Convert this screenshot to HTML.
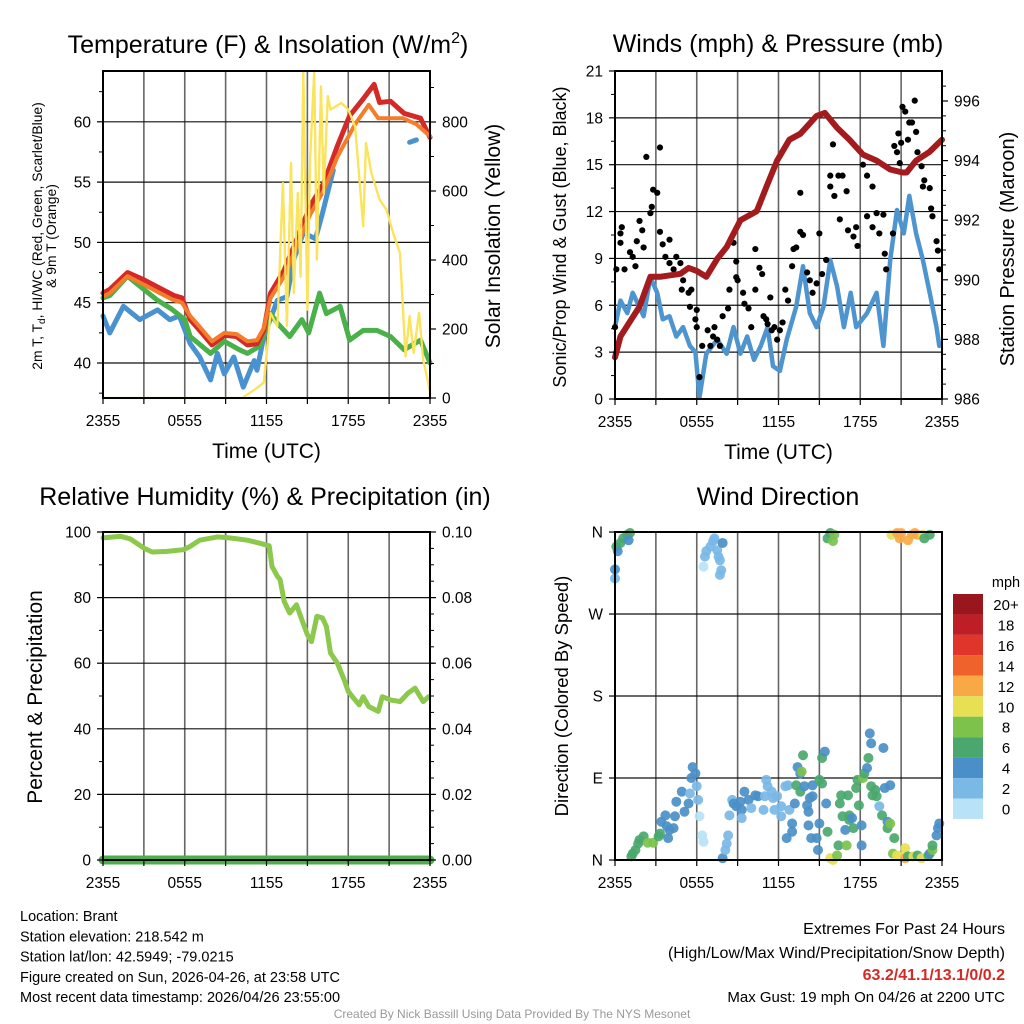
<!DOCTYPE html>
<html><head><meta charset="utf-8"><style>
html,body{margin:0;padding:0;background:#fff;}
svg{display:block;font-family:"Liberation Sans",sans-serif;}
</style></head><body>
<svg id="fig" width="1024" height="1024" viewBox="0 0 1024 1024" xmlns="http://www.w3.org/2000/svg"></svg>
<script>
// ---- Data (hours since 2355 UTC) ----
const xTickLabels = ["2355","0555","1155","1755","2355"];
const tempHours = [0,0.5,1.8,3,4,5.2,5.8,6.4,7.1,8,8.9,9.8,10.6,11.3,11.8,12.3,13.3,14.2,15.2,16.2,17.2,18.1,19.1,19.9,20.3,21.1,22.1,23.3,24];
const tempF = [45.8,46.1,47.5,46.9,46.3,45.6,45.4,43.6,42.7,41.5,42.3,42.2,41.5,41.6,42.7,45.8,47.7,50.2,53.0,54.9,58.0,60.5,61.9,63.1,61.6,61.7,60.7,60.3,58.7];
const t9Hours = [0,0.5,1.8,3,4,5.2,5.8,6.4,7.1,8,8.9,9.8,10.6,11.3,11.8,12.3,13.3,14.2,15.2,16.2,17.2,18.5,19.5,20.2,21,22,23,24];
const t9F = [45.5,45.8,47.2,46.5,45.9,45.2,45.0,43.9,43.0,41.8,42.5,42.4,41.8,41.9,42.9,45.4,47.2,49.6,52.3,54.3,57.1,59.8,61.4,60.3,60.3,60.3,59.8,58.8];
const hiHours = [0,0.5,1.8,3,4,5,6,6.4,7.9,8.9,10,10.6,11.5,12.3,12.8,13.7,14.6,15.1,15.9,16.4,17.4,18.1,19.1,20.1,21.1,22.1,23.3,24];
const hiF = [45.4,45.6,47.2,46.1,45.2,44.5,43.6,42.2,40.8,41.8,41.1,40.8,41.4,44.1,43.3,42.2,43.6,42.5,45.8,44.1,44.7,41.9,42.7,42.7,42.2,41.1,41.9,40.0];
const tdHours = [0,0.5,1.5,2.7,4,4.9,5.6,6.4,7.1,7.9,8.4,8.9,9.6,10.3,11.1,11.3,11.8,12.8,13.5,14,14.7,15.6,16.1,16.9];
const tdF = [43.9,42.5,44.7,43.6,44.4,43.6,43.9,41.6,40.5,38.6,40.8,39.1,40.5,38.0,40.2,39.4,42.2,45.2,45.5,48.6,50.8,50.3,52.4,56.0];
const td2Hours = [22.5,23.0];
const td2F = [58.3,58.5];
const solHours = [0,10.2,11.3,11.8,12.3,12.8,13.2,13.5,13.8,14.0,14.3,14.5,14.7,15.0,15.2,15.5,15.7,16.0,16.2,16.5,16.7,17.5,18.0,18.5,18.8,19.1,19.3,19.7,20.3,20.8,21.3,21.8,22.2,22.5,22.8,23.2,23.5,24];
const solW = [0,0,29,45,246,208,623,208,681,304,594,352,947,256,691,947,401,903,594,875,836,855,836,787,642,498,739,652,575,546,478,420,121,237,131,247,111,19];

const windHours = [0,0.4,0.9,1.3,2.1,2.6,3.1,3.5,4.0,4.5,5.0,5.5,5.9,6.2,6.7,7.5,8.2,8.7,9.2,9.7,10.2,10.7,11.2,11.6,12.1,12.6,13.3,13.8,14.3,14.8,15.3,15.8,16.3,16.8,17.3,17.7,18.5,19.2,19.7,20.2,20.7,21.2,21.6,22.1,22.6,23.1,23.6,23.8];
const windMph = [4.6,6.3,5.5,6.8,5.3,7.8,6.8,5.1,5.3,4.0,4.6,3.4,3.0,0.1,2.9,3.8,2.9,4.6,2.9,4.0,2.5,3.4,4.6,2.1,1.8,3.8,5.9,8.5,5.5,4.6,5.9,8.9,7.2,4.6,6.8,4.6,5.5,6.8,3.4,8.9,12.1,10.6,13.0,10.6,8.9,6.8,4.6,3.4];
const presHours = [0,0.4,1.8,2.6,3.3,4.8,5.4,6.0,6.7,7.5,8.2,9.2,10.4,11.1,11.9,12.8,13.6,14.8,15.4,16.3,17.2,18.2,19.2,20.2,21.1,21.4,22.1,23.1,24];
const presMb = [987.4,988.1,989.1,990.1,990.1,990.2,990.4,990.3,990.1,990.7,991.1,992.0,992.3,993.1,994.0,994.7,994.9,995.5,995.6,995.1,994.7,994.2,994.0,993.7,993.6,993.6,994.0,994.3,994.7];
const gustHours = [0,0.1,0.4,0.5,0.4,0.7,1.1,1.3,1.5,1.6,1.8,2.0,2.1,2.3,2.6,2.7,2.8,3.1,3.3,3.3,3.5,3.7,4.0,4.0,4.3,4.5,4.8,4.9,5.0,5.4,5.5,5.6,5.9,6.0,6.0,6.4,6.2,6.8,7.0,7.2,7.3,7.5,7.7,7.9,8.3,8.4,8.7,8.9,8.9,9.0,9.4,9.5,9.8,10.0,10.3,10.3,10.6,10.8,10.9,11.1,11.4,11.2,11.5,11.7,11.9,12.1,12.3,12.5,12.7,13.0,13.1,13.3,13.6,13.6,13.8,14.1,14.3,14.5,14.8,15.0,15.2,15.5,15.8,15.8,16.0,16.1,16.4,16.5,16.7,17.0,17.1,17.5,17.7,17.8,18.2,18.5,18.5,18.9,18.9,19.2,19.4,19.7,19.8,19.9,20.4,20.5,20.7,20.8,20.9,21.0,21.1,21.3,21.5,21.6,21.8,22.0,22.1,22.2,22.5,22.6,22.7,23.1,23.2,23.3,23.6,23.7,23.8];
const gustMph = [4.6,8.3,10.6,11.0,10.0,8.3,9.4,9.1,8.5,10.1,11.4,10.8,9.7,15.5,11.9,12.3,13.4,13.2,16.1,10.7,9.9,9.1,10.2,8.7,8.3,9.1,8.7,7.0,7.6,6.8,5.9,7.0,5.1,5.7,4.6,3.4,1.4,4.4,3.4,4.0,4.6,3.8,3.4,5.3,5.8,7.0,10.0,8.8,7.8,7.6,6.8,6.1,5.8,4.6,9.6,7.0,8.4,8.0,5.3,5.1,6.5,4.8,4.4,4.6,3.8,4.4,4.9,7.0,6.3,8.5,9.6,9.7,10.7,13.2,10.5,8.1,7.6,6.8,7.4,10.6,8.0,8.9,13.6,14.3,16.3,13.0,14.3,11.5,14.3,13.3,10.8,10.4,11.0,9.8,15.0,14.3,11.7,13.6,11.0,11.9,10.6,11.8,9.3,8.3,10.6,16.2,15.8,17.0,15.1,16.4,18.7,18.4,16.6,17.7,17.7,19.1,17.1,15.8,14.9,13.6,14.0,13.5,12.2,11.7,10.1,9.5,8.3];

const rhHours = [0,1.3,2,3,3.6,4.7,5.9,6.4,7.1,8.4,9.3,10.6,11.5,12.2,12.4,12.8,13.0,13.3,13.7,14.2,14.6,15.0,15.3,15.7,16.1,16.4,16.7,17.2,17.7,18.0,18.4,18.8,19.1,19.5,20.2,20.5,21.1,21.8,22.4,22.9,23.5,23.9];
const rhPct = [98.2,98.7,97.9,95.1,93.9,94.1,94.6,95.6,97.5,98.5,98.2,97.5,96.6,95.8,89.5,86.5,85.5,78.8,75.3,77.8,73.2,68.7,66.6,74.3,73.8,71.2,63.1,60.0,54.9,51.4,49.3,47.3,49.8,46.8,45.3,49.8,48.8,48.3,50.9,52.4,48.3,49.8];
const precipHours = [0,24];
const precipIn = [0,0];

const dirHours = [0.0,0.0,0.1,0.2,0.4,0.6,0.9,1.1,1.0,1.2,1.3,1.5,1.7,1.8,2.1,2.4,2.8,3.2,3.3,3.4,3.7,3.8,4.0,3.9,4.3,4.4,4.5,4.9,5.1,5.4,5.5,5.6,5.7,5.9,6.0,6.1,6.2,6.4,6.5,6.5,6.6,6.7,7.0,7.2,7.3,7.5,7.6,7.7,7.8,7.7,7.9,7.9,8.1,8.2,8.3,8.4,8.6,8.7,8.9,9.2,9.3,9.3,9.5,9.8,10.0,10.3,10.5,10.9,11.0,11.1,11.2,11.5,11.6,11.7,11.9,12.2,12.2,12.5,12.6,12.7,12.8,13.0,13.0,13.2,13.3,13.4,13.6,13.6,13.7,13.8,13.9,14.1,14.2,14.2,14.3,14.4,14.5,14.5,14.8,14.9,15.0,15.0,15.2,15.2,15.4,15.5,15.6,15.8,16.0,16.3,16.4,16.5,16.6,16.7,16.9,17.0,17.1,17.2,17.2,17.4,17.5,17.7,17.8,17.9,18.1,18.1,18.2,18.3,18.5,18.6,18.7,18.8,18.8,18.9,19.1,19.2,19.4,19.6,19.7,19.8,20.0,20.0,20.2,20.2,20.5,20.4,20.7,20.9,21.3,21.3,21.5,21.9,22.2,22.5,23.0,23.1,23.3,23.3,23.6,23.7,23.8,15.6,15.8,16.0,16.1,20.3,20.7,20.9,21.0,21.5,21.8,22.0,22.2,22.6,22.7,23.1];
const dirDeg = [309,319,344,339,348,353,357,359,351,4,7,11,18,22,26,19,19,26,29,42,49,37,33,24,35,48,64,75,53,62,73,90,102,95,81,66,48,27,20,322,333,339,344,350,353,340,333,329,318,313,348,2,11,18,27,49,66,62,59,64,55,46,75,66,57,71,70,55,70,88,81,75,68,55,70,59,48,81,24,82,55,40,31,62,82,102,95,75,97,115,81,60,53,38,68,24,70,82,24,11,40,88,84,112,119,62,31,2,0,5,16,62,71,48,33,16,71,49,44,46,35,79,88,60,16,38,90,95,101,112,139,128,81,71,77,70,59,49,123,79,42,35,40,82,24,7,5,4,13,2,4,4,5,2,5,7,11,16,27,35,40,353,359,350,357,357,359,353,359,351,357,359,357,357,353,357];
const dirSpeed = [2,4,6,4,6,6,6,6,4,6,6,6,6,6,6,8,8,6,6,4,4,4,4,4,4,4,4,4,4,4,2,4,4,4,2,2,0,0,0,0,2,2,2,2,2,2,2,2,2,2,4,4,2,2,2,2,2,4,4,4,4,2,4,4,2,4,4,2,2,2,2,2,2,2,2,2,2,2,4,2,2,4,4,4,6,4,4,6,8,6,4,4,4,4,4,4,4,4,4,4,4,6,6,6,4,4,6,10,10,8,6,6,6,6,4,8,6,6,6,4,6,6,6,6,4,4,8,6,4,6,4,4,6,6,6,6,2,6,4,4,4,6,8,4,6,8,10,10,10,12,6,10,6,10,6,4,8,6,4,4,4,6,6,8,8,10,12,12,12,12,12,12,12,10,6,6];
const legendLabels = ["20+","18","16","14","12","10","8","6","4","2","0"];
const legendColors = ["#98161c","#be1e26","#e0352a","#f0622c","#f8a845","#e6e052","#7cc24b","#4aa86e","#4a8fc7","#7ab9e6","#b8e3f6"];

// ---- Rendering ----
const NS="http://www.w3.org/2000/svg";
const svg=document.getElementById('fig');
function el(tag,attrs,parent){const e=document.createElementNS(NS,tag);for(const k in attrs)e.setAttribute(k,attrs[k]);(parent||svg).appendChild(e);return e;}
function txt(s,attrs,parent){const t=el('text',attrs,parent);t.textContent=s;return t;}
function speedColor(s){const i=Math.min(10,Math.round(s/2));return legendColors[10-i];}

function panel(name,L,R,T,B){
  const g=el('g',{});
  
  
  const xs=h=>L+h*(R-L)/24;
  return {g,L,R,T,B,xs};
}
function grid(p,yvals){
  const gg=el('g',{},p.g);
  
  
  for(let h=3;h<24;h+=3){const x=p.xs(h);el('line',{x1:x,x2:x,y1:p.T,y2:p.B,stroke:'#666','stroke-width':1.6},gg);}
  yvals.forEach(y=>el('line',{x1:p.L,x2:p.R,y1:y,y2:y,stroke:'#111','stroke-width':1.2},gg));
}
function frame(p){
  const f=el('rect',{x:p.L,y:p.T,width:p.R-p.L,height:p.B-p.T,fill:'none',stroke:'#000','stroke-width':2},p.g);
  
  
}
function xAxis(p,title){
  const ax=el('g',{},p.g);
  
  
  for(let h=0;h<=24;h+=3){const x=p.xs(h);el('line',{x1:x,x2:x,y1:p.B,y2:p.B+6,stroke:'#000','stroke-width':1.2},ax);}
  xTickLabels.forEach((l,i)=>{const t=txt(l,{x:p.xs(i*6),y:p.B+28,'font-size':15.5,'text-anchor':'middle'},ax);
    
    });
  if(title){const t=txt(title,{x:(p.L+p.R)/2,y:p.B+60,'font-size':21,'text-anchor':'middle'},ax);
    
    }
}
function yTicks(p,side,vals,ys,labels,minorYs,name){
  const ax=el('g',{},p.g);
  
  
  const x0=side==='l'?p.L:p.R, d=side==='l'?-1:1;
  ys.forEach((y,i)=>{el('line',{x1:x0,x2:x0+d*6,y1:y,y2:y,stroke:'#000','stroke-width':1.2},ax);
    const t=txt(labels[i],{x:x0+d*12,y:y+5.5,'font-size':15.5,'text-anchor':side==='l'?'end':'start'},ax);
    
    });
  (minorYs||[]).forEach(y=>el('line',{x1:x0,x2:x0+d*4,y1:y,y2:y,stroke:'#000','stroke-width':1},ax));
}
function line(p,hs,vs,yf,color,w,name){
  const d=hs.map((h,i)=>(i?'L':'M')+p.xs(h).toFixed(1)+','+yf(vs[i]).toFixed(1)).join('');
  const pa=el('path',{d,fill:'none',stroke:color,'stroke-width':w,'stroke-linejoin':'round','stroke-linecap':'round'},p.g);
  
  
  return pa;
}
function rotText(s,x,y,size,name){const t=txt(s,{x,y,'font-size':size,'text-anchor':'middle',transform:`rotate(-90 ${x} ${y})`});
  
  return t;}
function title(s,x,y,name){const t=txt(s,{x,y,'font-size':25,'text-anchor':'middle'});
  
  return t;}

// Panel 1: temperature
{
  const p=panel('temperature-panel',103,430,71,398);
  const yT=v=>363-(v-40)*12.06, yW=v=>398-v*0.345;
  grid(p,[40,45,50,55,60].map(yT));
  line(p,solHours,solW,yW,'#fbe35c',2.2,'insolation-line');
  line(p,tdHours,tdF,yT,'#4a92cf',5,'dewpoint-line');
  line(p,td2Hours,td2F,yT,'#4a92cf',5,'dewpoint-line-late');
  line(p,hiHours,hiF,yT,'#49b04a',5,'heat-index-line');
  line(p,tempHours,tempF,yT,'#d42a27',5,'temperature-2m-line');
  line(p,t9Hours,t9F,yT,'#f47c2a',4,'temperature-9m-line');
  line(p,solHours.filter(h=>h>=10.8),solW.filter((w,i)=>solHours[i]>=10.8),yW,'#fbe35c',2.2,'insolation-line-front');
  frame(p); xAxis(p,'Time (UTC)');
  const tv=[40,45,50,55,60]; const mn=[];for(let v=37.5;v<=62.5;v+=2.5)if(v%5)mn.push(yT(v));
  yTicks(p,'l',tv,tv.map(yT),tv.map(String),mn,'y-axis-left');
  const wv=[0,200,400,600,800]; const wm=[];for(let v=100;v<=900;v+=100)if(v%200)wm.push(yW(v));
  yTicks(p,'r',wv,wv.map(yW),wv.map(String),wm,'y-axis-right');
  const tt=title('','268','53','temperature-title');
  tt.innerHTML='Temperature (F) &amp; Insolation (W/m<tspan font-size="16" dy="-10">2</tspan><tspan dy="10">)</tspan>';
  const yl=txt('',{x:0,y:0,'font-size':13.9,'text-anchor':'middle',transform:'translate(42 236) rotate(-90)'});
  
  
  yl.innerHTML='2m T, T<tspan font-size="10" dy="3">d</tspan><tspan dy="-3">, HI/WC (Red, Green, Scarlet/Blue)</tspan>';
  rotText('& 9m T (Orange)',56,236,13.9,'y-axis-title-left-2');
  rotText('Solar Insolation (Yellow)',500,236,21,'y-axis-title-right');
}
// Panel 2: winds
{
  const p=panel('winds-panel',615,942,71,399);
  const yM=v=>399-v*15.62, yP=v=>399-(v-986)*29.8;
  grid(p,[3,6,9,12,15,18].map(yM));
  line(p,windHours,windMph,yM,'#4e95d0',4.5,'sonic-wind-line');
  const gg=el('g',{},p.g);
  
  
  gustHours.forEach((h,i)=>{const c=el('circle',{cx:p.xs(h),cy:yM(gustMph[i]),r:3.1,fill:'#000'},gg);
    
    });
  line(p,presHours,presMb,yP,'#a31b1d',6,'pressure-line');
  frame(p); xAxis(p,'Time (UTC)');
  const mv=[0,3,6,9,12,15,18,21]; const mm=[];for(let v=1.5;v<21;v+=3)mm.push(yM(v));
  yTicks(p,'l',mv,mv.map(yM),mv.map(String),mm,'y-axis-left');
  const pv=[986,988,990,992,994,996]; const pm=[];for(let v=986.5;v<997;v+=0.5)if(v%2)pm.push(yP(v));
  yTicks(p,'r',pv,pv.map(yP),pv.map(String),pm,'y-axis-right');
  title('Winds (mph) & Pressure (mb)',778,52,'winds-title');
  rotText('Sonic/Prop Wind & Gust (Blue, Black)',566,237,18,'y-axis-title-left');
  rotText('Station Pressure (Maroon)',1014,249,20,'y-axis-title-right');
}
// Panel 3: RH
{
  const p=panel('humidity-panel',103,430,532,860);
  const yR=v=>860-v*3.28, yPr=v=>860-v*3280;
  grid(p,[20,40,60,80].map(yR));
  line(p,rhHours,rhPct,yR,'#8cc84b',5,'humidity-line');
  line(p,precipHours,precipIn,yPr,'#4bb04a',9,'precipitation-line');
  line(p,precipHours,precipIn,yPr,'#2f7a30',1.5,'precipitation-line-center');
  frame(p); xAxis(p,null);
  const rv=[0,20,40,60,80,100]; const rm=[];for(let v=10;v<100;v+=10)if(v%20)rm.push(yR(v));
  yTicks(p,'l',rv,rv.map(yR),rv.map(String),rm,'y-axis-left');
  const qv=[0,0.02,0.04,0.06,0.08,0.10]; const qm=[];for(let v=0.005;v<0.1;v+=0.005)qm.push(yPr(v));
  yTicks(p,'r',qv,qv.map(yPr),qv.map(v=>v.toFixed(2)),qm,'y-axis-right');
  title('Relative Humidity (%) & Precipitation (in)',265,505,'humidity-title');
  rotText('Percent & Precipitation',42,697,21,'y-axis-title-left');
}
// Panel 4: wind direction
{
  const p=panel('wind-direction-panel',615,942,532,860);
  const yD=v=>860-v*0.911;
  grid(p,[90,180,270].map(yD));
  const dg=el('g',{},p.g);
  
  
  dirHours.forEach((h,i)=>{const c=el('circle',{cx:p.xs(h),cy:yD(dirDeg[i]),r:5,fill:speedColor(dirSpeed[i]),'fill-opacity':0.92},dg);
    
    });
  frame(p); xAxis(p,null);
  const dv=[0,90,180,270,360];
  yTicks(p,'l',dv,dv.map(yD),['N','E','S','W','N'],[],'y-axis-left');
  title('Wind Direction',778,505,'wind-direction-title');
  rotText('Direction (Colored By Speed)',568,696,18.5,'y-axis-title-left');
  const lg=el('g',{});
  
  
  txt('mph',{x:1006,y:587,'font-size':14.5,'text-anchor':'middle'},lg);
  legendColors.forEach((c,i)=>{const r=el('rect',{x:953,y:594+i*20.45,width:30,height:20.45,fill:c},lg);
    
    
    txt(legendLabels[i],{x:1006,y:610+i*20.45,'font-size':15,'text-anchor':'middle'},lg);});
}
// Footer text
{
  const info=el('g',{});
  
  
  ["Location: Brant","Station elevation: 218.542 m","Station lat/lon: 42.5949; -79.0215","Figure created on Sun, 2026-04-26, at 23:58 UTC","Most recent data timestamp: 2026/04/26 23:55:00"].forEach((s,i)=>txt(s,{x:20,y:921+i*20.3,'font-size':14.5},info));
  const ex=el('g',{});
  
  
  txt('Extremes For Past 24 Hours',{x:1005,y:934,'font-size':16,'text-anchor':'end'},ex);
  txt('(High/Low/Max Wind/Precipitation/Snow Depth)',{x:1005,y:958,'font-size':16,'text-anchor':'end'},ex);
  txt('63.2/41.1/13.1/0/0.2',{x:1005,y:980,'font-size':16,'font-weight':'bold',fill:'#d42a27','text-anchor':'end'},ex);
  txt('Max Gust: 19 mph On 04/26 at 2200 UTC',{x:1005,y:1002,'font-size':15,'text-anchor':'end'},ex);
  const cr=txt('Created By Nick Bassill Using Data Provided By The NYS Mesonet',{x:512,y:1018,'font-size':12,fill:'#999','text-anchor':'middle'});
  
  
}
</script>
</body></html>
